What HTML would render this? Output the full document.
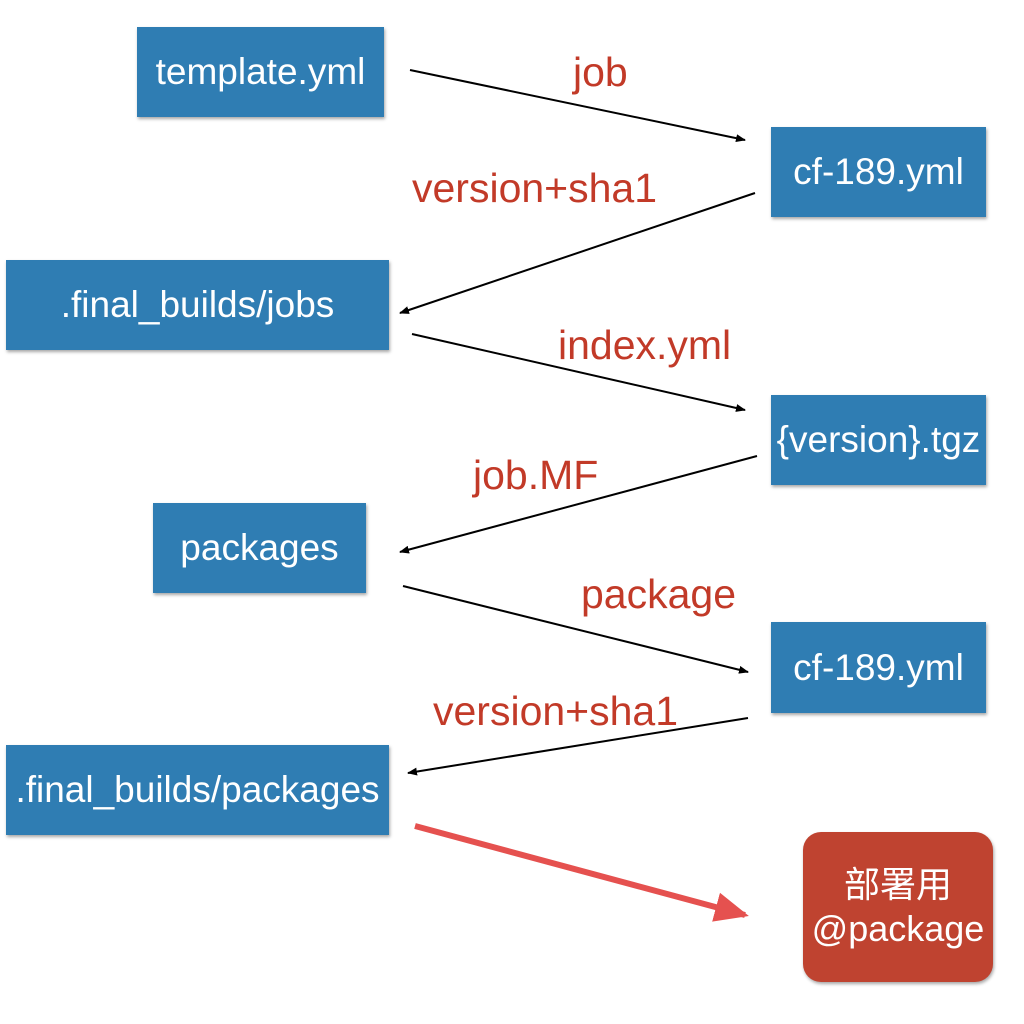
<!DOCTYPE html>
<html><head><meta charset="utf-8"><style>
html,body{margin:0;padding:0;background:#fff;width:1024px;height:1024px;overflow:hidden}
.b{position:absolute;background:#2f7db3;color:#fff;font-family:"Liberation Sans","Noto Sans CJK SC",sans-serif;font-size:37px;display:flex;align-items:center;justify-content:center;box-shadow:1px 2px 3px rgba(0,0,0,.35);white-space:nowrap}
.l{position:absolute;color:#c23a28;font-family:"Liberation Sans",sans-serif;font-size:41px;white-space:nowrap}
</style></head><body>
<div class="b" style="left:137px;top:27px;width:247px;height:90px">template.yml</div>
<div class="b" style="left:771px;top:127px;width:215px;height:90px">cf-189.yml</div>
<div class="b" style="left:6px;top:260px;width:383px;height:90px">.final_builds/jobs</div>
<div class="b" style="left:771px;top:395px;width:215px;height:90px">{version}.tgz</div>
<div class="b" style="left:153px;top:503px;width:213px;height:90px">packages</div>
<div class="b" style="left:771px;top:622px;width:215px;height:91px">cf-189.yml</div>
<div class="b" style="left:6px;top:745px;width:383px;height:90px">.final_builds/packages</div>
<div class="b" style="left:803px;top:832px;width:190px;height:150px;border-radius:18px;background:#bf4330;font-size:36px;line-height:44px;text-align:center;flex-direction:column">部署用<br>@package</div>
<div class="l" style="left:573px;top:49px">job</div>
<div class="l" style="left:412px;top:165px">version+sha1</div>
<div class="l" style="left:558px;top:322px">index.yml</div>
<div class="l" style="left:473px;top:452px">job.MF</div>
<div class="l" style="left:581px;top:571px">package</div>
<div class="l" style="left:433px;top:688px">version+sha1</div>
<svg width="1024" height="1024" style="position:absolute;left:0;top:0">
<defs><marker id="a" markerWidth="10" markerHeight="8" refX="9" refY="4" orient="auto" markerUnits="userSpaceOnUse"><path d="M0,0L10,4L0,8z" fill="#000"/></marker>
<marker id="r" markerWidth="34" markerHeight="34" refX="30" refY="17" orient="auto" markerUnits="userSpaceOnUse"><path d="M0,2L34,17L0,32z" fill="#e5514f"/></marker></defs>
<g stroke="#000" stroke-width="2" fill="none">
<line x1="410" y1="70" x2="745" y2="140" marker-end="url(#a)"/>
<line x1="755" y1="193" x2="400" y2="313" marker-end="url(#a)"/>
<line x1="412" y1="334" x2="745" y2="410" marker-end="url(#a)"/>
<line x1="757" y1="456" x2="400" y2="552" marker-end="url(#a)"/>
<line x1="403" y1="586" x2="748" y2="672" marker-end="url(#a)"/>
<line x1="748" y1="718" x2="408" y2="773" marker-end="url(#a)"/>
</g>
<line x1="415" y1="826" x2="745" y2="915" stroke="#e5514f" stroke-width="6" marker-end="url(#r)"/>
</svg>
</body></html>
